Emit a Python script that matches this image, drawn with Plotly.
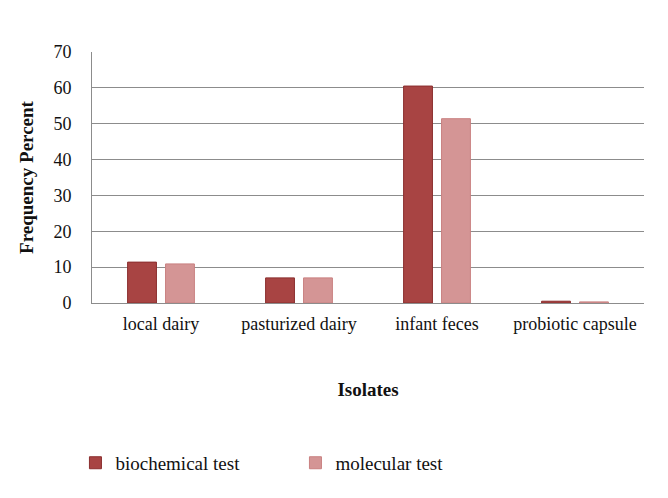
import plotly.graph_objects as go

# data
isolates = ["local dairy", "pasturized dairy", "infant feces", "probiotic capsule"]
biochemical = [11.4, 7.0, 60.5, 0.5]
molecular = [10.9, 7.0, 51.4, 0.3]

fig = go.Figure()
fig.add_trace(go.Bar(
    x=isolates, y=biochemical, name="biochemical test",
    marker=dict(color="#A84443", line=dict(color="#8B2E2E", width=1))
))
fig.add_trace(go.Bar(
    x=isolates, y=molecular, name="molecular test",
    marker=dict(color="#D49595", line=dict(color="#C98080", width=1))
))

font_serif = "Liberation Serif, Times New Roman, serif"

# page body has an 8px margin, so the margins are shifted by that amount
fig.update_layout(
    width=668, height=498,
    margin=dict(l=84, r=32, t=44, b=203),
    plot_bgcolor="white", paper_bgcolor="white",
    font=dict(family=font_serif, size=18, color="#111"),
    barmode="group", bargap=0.45, bargroupgap=0.24,
    showlegend=True,
    legend=dict(
        orientation="h", x=-0.03, xanchor="left", y=-0.637, yanchor="middle",
        font=dict(size=19), entrywidth=175, entrywidthmode="pixels",
    ),
)
fig.update_xaxes(
    showline=True, linecolor="#8c8c8c", linewidth=1,
    ticks="", ticklabelstandoff=4,
    title=dict(text="<b>Isolates</b>", font=dict(size=19), standoff=50),
)
fig.update_yaxes(
    range=[0, 70], dtick=10,
    showgrid=True, gridcolor="#8c8c8c", gridwidth=1,
    showline=True, linecolor="#8c8c8c", linewidth=1,
    zeroline=False, ticks="", ticklabelstandoff=16,
    title=dict(text="<b>Frequency Percent</b>", font=dict(size=19), standoff=14),
)

fig.write_html("out.html")
